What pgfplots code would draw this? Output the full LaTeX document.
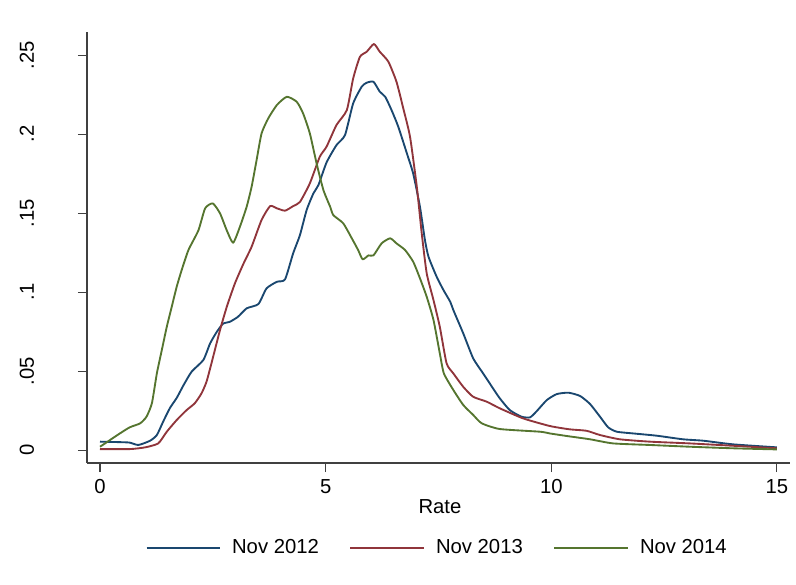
\documentclass[border=0pt]{standalone}
\usepackage{pgfplots}
\pgfplotsset{compat=1.18}
\usepackage{fontspec}
\setmainfont{Liberation Sans}
\definecolor{snavy}{RGB}{26,71,111}
\definecolor{smaroon}{RGB}{144,53,59}
\definecolor{sforest}{RGB}{85,117,47}
\begin{document}
\begin{tikzpicture}
\useasboundingbox (-65.25pt,-91.5pt) rectangle (531.75pt,347.25pt);
\begin{axis}[
  at={(0pt,0pt)}, anchor=south west,
  scale only axis, width=527.25pt, height=323.25pt,
  xmin=-0.288, xmax=15.29, ymin=-0.0082, ymax=0.2646,
  axis x line*=bottom, axis y line*=left,
  axis line style={line width=0.8pt, black!75},
  tick align=outside, major tick length=6.75pt,
  tick style={line width=0.8pt, black!75},
  xtick={0,5,10,15},
  ytick={0,0.05,0.1,0.15,0.2,0.25},
  yticklabels={0,.05,.1,.15,.2,.25},
  font=\fontsize{15.2}{18}\selectfont,
  tick label style={font=\fontsize{15.2}{18}\selectfont},
  /pgf/number format/assume math mode=true,
  xticklabel style={yshift=-2pt},
  yticklabel style={xshift=-33pt, rotate=90, anchor=base},
  xlabel={Rate},
  xlabel style={at={(axis description cs:0.502,-0.074)}, anchor=north},
  legend columns=3,
  legend style={draw=none, fill=none, at={(0.4986,-0.197)}, anchor=center,
    font=\fontsize{15.2}{18}\selectfont,
    /tikz/every odd column/.append style={column sep=6.5pt},
    /tikz/every even column/.append style={column sep=21pt}},
  legend image code/.code={\draw[#1] (0pt,0pt) -- (55pt,0pt);},
  every axis plot/.append style={line width=1.4pt, line join=round, smooth, tension=0.35},
]
\addplot[snavy] table {
0 0.0053
0.44 0.005
0.66 0.0047
0.85 0.0032
1.11 0.0059
1.26 0.0095
1.40 0.018
1.55 0.0266
1.70 0.033
1.85 0.041
2.03 0.0496
2.29 0.057
2.44 0.0675
2.59 0.0749
2.73 0.080
2.88 0.0812
3.06 0.0844
3.25 0.0897
3.51 0.0924
3.69 0.1023
3.92 0.1065
4.10 0.108
4.28 0.1245
4.43 0.136
4.58 0.152
4.73 0.1625
4.84 0.1677
5.02 0.182
5.24 0.193
5.43 0.1994
5.61 0.2194
5.80 0.230
5.91 0.2325
6.06 0.2331
6.20 0.2268
6.32 0.2236
6.46 0.2152
6.61 0.2046
6.80 0.1878
6.94 0.175
7.09 0.154
7.20 0.133
7.28 0.1223
7.46 0.1097
7.61 0.1013
7.76 0.0939
7.83 0.0886
8.05 0.0738
8.27 0.058
8.49 0.0485
8.71 0.039
8.86 0.0327
9.08 0.0253
9.34 0.0211
9.53 0.0207
9.68 0.0247
9.90 0.0316
10.12 0.0354
10.38 0.0363
10.64 0.0342
10.86 0.0291
11.08 0.0211
11.26 0.0144
11.45 0.0116
11.82 0.0105
12.33 0.0091
12.92 0.0068
13.37 0.0059
14.03 0.0036
15.0 0.0017
};
\addlegendentry{Nov 2012}
\addplot[smaroon] table {
0 0.0006
0.66 0.0006
1.0 0.0017
1.29 0.0042
1.48 0.0116
1.70 0.019
1.92 0.0253
2.10 0.0296
2.25 0.0359
2.36 0.0432
2.47 0.0549
2.66 0.076
2.81 0.0907
2.99 0.1055
3.18 0.118
3.36 0.1287
3.58 0.1456
3.77 0.1544
3.92 0.153
4.10 0.1515
4.28 0.1544
4.43 0.157
4.65 0.1688
4.87 0.1856
5.02 0.192
5.24 0.2057
5.47 0.2152
5.61 0.2352
5.76 0.2489
5.91 0.2521
6.07 0.257
6.20 0.2521
6.39 0.2458
6.57 0.2331
6.72 0.2163
6.87 0.1983
7.02 0.1667
7.13 0.137
7.24 0.1118
7.39 0.0949
7.53 0.078
7.68 0.0549
7.83 0.0485
8.05 0.040
8.27 0.0337
8.57 0.0306
8.86 0.0264
9.38 0.020
9.97 0.0152
10.41 0.0131
10.78 0.0122
11.08 0.0095
11.52 0.0068
12.19 0.0053
13.07 0.0042
14.03 0.0027
15.0 0.0011
};
\addlegendentry{Nov 2013}
\addplot[sforest] table {
0 0.0021
0.22 0.0063
0.44 0.0105
0.66 0.0144
0.89 0.0169
1.03 0.0211
1.15 0.0296
1.26 0.0485
1.37 0.0633
1.48 0.078
1.59 0.0907
1.70 0.1034
1.81 0.1139
1.96 0.1266
2.18 0.139
2.33 0.153
2.50 0.1561
2.66 0.1498
2.81 0.139
2.95 0.1312
3.10 0.1413
3.25 0.154
3.36 0.1667
3.47 0.1835
3.58 0.2004
3.73 0.210
3.92 0.2184
4.14 0.2236
4.36 0.2204
4.50 0.2131
4.65 0.2004
4.80 0.1814
4.95 0.1646
5.10 0.154
5.17 0.1487
5.39 0.1435
5.58 0.134
5.72 0.1266
5.82 0.1207
5.95 0.1232
6.06 0.1232
6.24 0.1308
6.43 0.134
6.57 0.1308
6.76 0.1266
6.94 0.1192
7.09 0.1087
7.24 0.097
7.39 0.0823
7.53 0.0612
7.62 0.0485
7.83 0.038
8.05 0.0285
8.27 0.0222
8.46 0.0169
8.86 0.0133
9.75 0.0116
9.97 0.0105
10.34 0.0089
10.86 0.0068
11.37 0.0042
12.19 0.0032
13.07 0.0021
14.03 0.0011
15.0 0.0004
};
\addlegendentry{Nov 2014}
\end{axis}
\end{tikzpicture}
\end{document}
